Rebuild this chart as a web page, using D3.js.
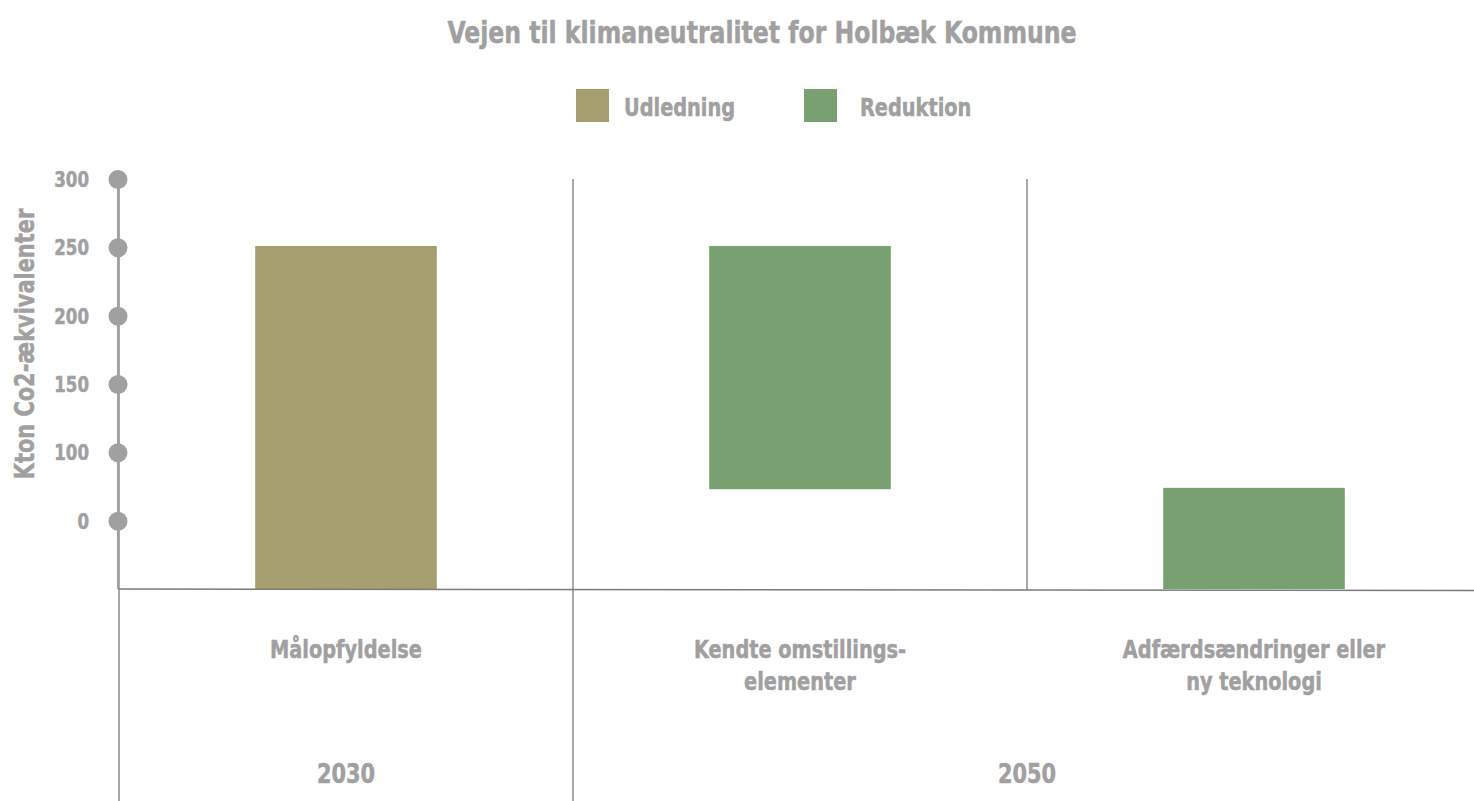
<!DOCTYPE html>
<html>
<head>
<meta charset="utf-8">
<script src="https://cdn.jsdelivr.net/npm/d3@7"></script>
<style>
  html, body { margin: 0; padding: 0; background: #fff; }
  svg text { font-family: "DejaVu Sans Condensed", "DejaVu Sans", sans-serif; font-weight: bold; fill: #A0A0A0; stroke: #A0A0A0; stroke-width: 0.5px; }
</style>
</head>
<body>
<svg id="chart" width="1474" height="801"></svg>
<script>
// ---- data ----
const title = "Vejen til klimaneutralitet for Holbæk Kommune";
const yTitle = "Kton Co2-ækvivalenter";
const categories = ["Målopfyldelse", "Kendte omstillings-elementer", "Adfærdsændringer eller ny teknologi"];
const categoryLines = [["Målopfyldelse"], ["Kendte omstillings-", "elementer"], ["Adfærdsændringer eller", "ny teknologi"]];
const barLow = [0, 73, 0];
const barHigh = [251, 251, 74];
const barSeries = ["Udledning", "Reduktion", "Reduktion"];
const seriesNames = ["Udledning", "Reduktion"];
const seriesColors = ["#A69F70", "#79A071"];
const tickValues = [300, 250, 200, 150, 100, 50];
const tickLabels = ["300", "250", "200", "150", "100", "0"];
const periods = ["2030", "2050"];
const periodSpans = [[0, 0], [1, 2]];

// ---- layout ----
const svg = d3.select("#chart");
const W = 1474, H = 801;
const x = d3.scaleBand().domain(categories).range([119, 1481]).paddingInner(0.6).paddingOuter(0.3);
const y = d3.scaleLinear().domain([0, 300]).range([589, 179]);
const color = d3.scaleOrdinal().domain(seriesNames).range(seriesColors);
const step = x.step();
const bandStart = c => x(c) - x.paddingOuter() * step;
const lineColor = "#7a7a7a";
const sx = 0.86; // horizontal compression of condensed font

function squeeze(sel, cx, k) {
  return sel.attr("transform", `translate(${cx},0) scale(${k},1) translate(${-cx},0)`);
}

// title
squeeze(svg.append("text").attr("x", 762).attr("y", 43).attr("text-anchor", "middle")
  .attr("font-size", 31).text(title), 762, 0.845);

// legend
const legendX = [576, 804];
const leg = svg.append("g");
seriesNames.forEach((s, i) => {
  leg.append("rect").attr("x", legendX[i]).attr("y", 89).attr("width", 33).attr("height", 33).attr("fill", color(s));
  const tx = legendX[i] + (i === 0 ? 48 : 56);
  squeeze(leg.append("text").attr("x", tx).attr("y", 116).attr("font-size", 25).text(s), tx, sx);
});

// separators (vertical)
const sepTop = y(300);
categories.forEach((c, i) => {
  const xx = bandStart(c);
  const bottom = i === 2 ? y(0) + 1 : H;
  svg.append("line").attr("x1", xx).attr("x2", xx).attr("y1", sepTop).attr("y2", bottom)
    .attr("stroke", lineColor).attr("stroke-width", 1.3);
});

// bars
svg.append("g").selectAll("rect").data(categories).join("rect")
  .attr("x", c => x(c))
  .attr("width", x.bandwidth())
  .attr("y", (c, i) => y(barHigh[i]))
  .attr("height", (c, i) => y(barLow[i]) - y(barHigh[i]))
  .attr("fill", (c, i) => color(barSeries[i]));

// baseline
svg.append("line").attr("x1", 118).attr("x2", W).attr("y1", y(0)).attr("y2", y(0) + 1.5)
  .attr("stroke", lineColor).attr("stroke-width", 1.5);

// y axis with dot ticks
const yAxis = d3.axisLeft(y).tickValues(tickValues).tickSize(0).tickPadding(0)
  .tickFormat((d, i) => tickLabels[i]);
const ya = svg.append("g").attr("transform", "translate(118,0)").call(yAxis);
ya.attr("font-family", null).attr("font-size", null);
ya.select(".domain").attr("stroke", "#A0A0A0").attr("stroke-width", 2).attr("d", `M0,${y(300)}V${y(0)}`);
ya.selectAll(".tick").append("circle").attr("r", 9.5).attr("fill", "#A0A0A0");
ya.selectAll(".tick text").attr("dy", "0.36em").attr("font-size", 21)
  .attr("fill", "#A0A0A0").attr("transform", "scale(0.88,1)").attr("x", -33);

// y title
svg.append("text").attr("transform", "translate(34,344) rotate(-90) scale(0.86,1)")
  .attr("text-anchor", "middle").attr("font-size", 27).text(yTitle);

// category labels
categoryLines.forEach((lines, i) => {
  const cx = x(categories[i]) + x.bandwidth() / 2;
  lines.forEach((ln, j) => {
    squeeze(svg.append("text").attr("x", cx).attr("y", 658 + j * 32).attr("text-anchor", "middle")
      .attr("font-size", 25).text(ln), cx, sx);
  });
});

// period labels
periods.forEach((p, i) => {
  const a = bandStart(categories[periodSpans[i][0]]);
  const b = bandStart(categories[periodSpans[i][1]]) + step;
  const cx = i === 0 ? (a + b) / 2 : bandStart(categories[2]);
  squeeze(svg.append("text").attr("x", cx).attr("y", 783).attr("text-anchor", "middle")
    .attr("font-size", 27).text(p), cx, sx);
});
</script>
</body>
</html>
